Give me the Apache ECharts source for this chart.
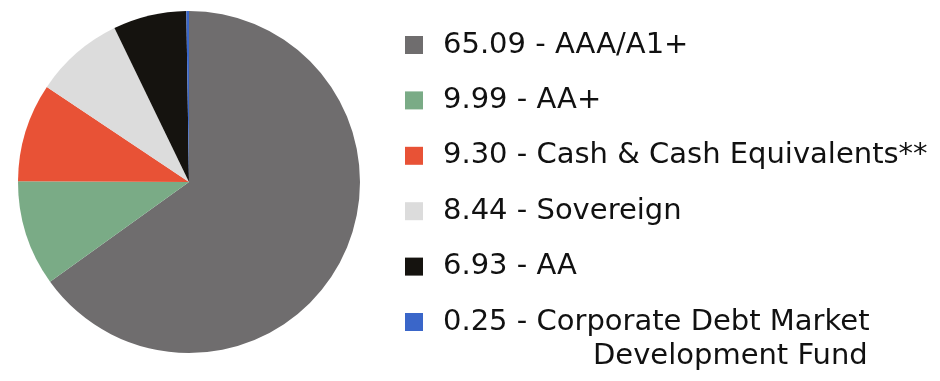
<!DOCTYPE html>
<html>
<head>
<meta charset="utf-8">
<script src="https://cdn.jsdelivr.net/npm/echarts@6/dist/echarts.min.js"></script>
<style>
html,body{margin:0;padding:0;background:#fff;}
#chart{width:940px;height:381px;}
</style>
</head>
<body>
<div id="chart"></div>
<script>
var categories = ['AAA/A1+', 'AA+', 'Cash & Cash Equivalents**', 'Sovereign', 'AA', 'Corporate Debt Market Development Fund'];
var values = [65.09, 9.99, 9.30, 8.44, 6.93, 0.25];
var valueLabels = ['65.09', '9.99', '9.30', '8.44', '6.93', '0.25'];
var colors = ['#6f6d6e', '#7aab86', '#e85236', '#dcdcdc', '#15130f', '#3a66c9'];

var chart = echarts.init(document.getElementById('chart'), null, {renderer: 'canvas'});
var FONT = 'DejaVu Sans';
var FS = 29;
var LH = 34;

function labelFor(name) {
  var i = categories.indexOf(name);
  return valueLabels[i] + ' - ' + name;
}

var seriesData = categories.map(function (c, i) {
  return {name: c, value: values[i], itemStyle: {color: colors[i]}};
});

var option = {
  backgroundColor: '#ffffff',
  animation: false,
  legend: [
    {
      orient: 'vertical',
      left: 405,
      top: 28,
      padding: 0,
      itemWidth: 18,
      itemHeight: 18,
      itemGap: 21.4,
      icon: 'rect',
      selectedMode: false,
      data: categories.slice(0, 5),
      formatter: labelFor,
      textStyle: {fontFamily: FONT, fontSize: FS, lineHeight: LH, color: '#111111', padding: [0, 0, 0, 15]}
    },
    {
      orient: 'vertical',
      left: 405,
      top: 271,
      padding: 0,
      itemWidth: 18,
      itemHeight: 18,
      icon: 'rect',
      selectedMode: false,
      data: categories.slice(5),
      formatter: function (name) {
        var i = categories.indexOf(name);
        return '{a|' + valueLabels[i] + ' - Corporate Debt Market}\n{b|Development Fund}';
      },
      textStyle: {
        fontFamily: FONT, fontSize: FS, lineHeight: LH, color: '#111111', padding: [LH, 0, 0, 15],
        rich: {
          a: {fontFamily: FONT, fontSize: FS, lineHeight: LH, color: '#111111'},
          b: {fontFamily: FONT, fontSize: FS, lineHeight: LH, color: '#111111', padding: [0, 0, 0, 150]}
        }
      }
    }
  ],
  series: [{
    type: 'pie',
    center: [189, 182],
    radius: [0, 171],
    startAngle: 90,
    clockwise: true,
    label: {show: false},
    labelLine: {show: false},
    emphasis: {disabled: true},
    itemStyle: {borderWidth: 0},
    data: seriesData
  }]
};
chart.setOption(option);
</script>
</body>
</html>
